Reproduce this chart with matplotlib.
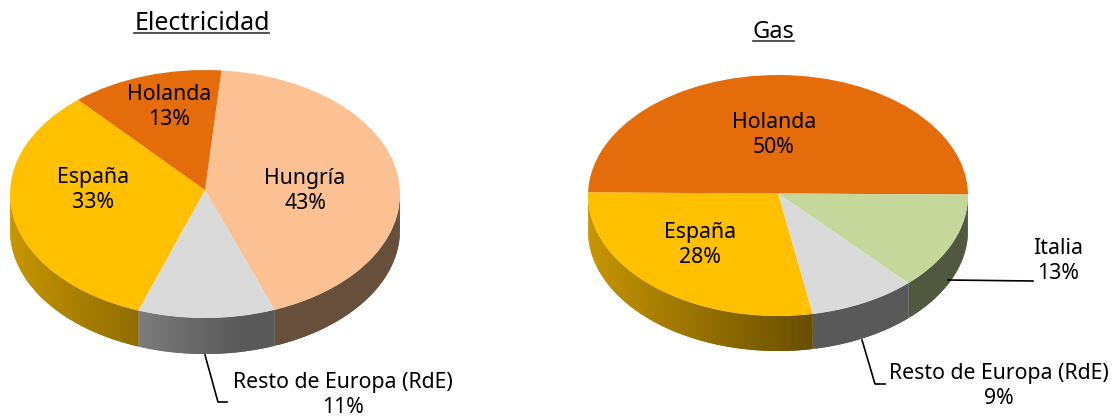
import numpy as np
import matplotlib
matplotlib.use("Agg")
import matplotlib.pyplot as plt
from matplotlib.transforms import Transform

plt.rcParams['font.family'] = ['Noto Sans', 'DejaVu Sans']

W, H = 1115, 418

elec_names = ["Hungría", "Resto de Europa (RdE)", "España", "Holanda"]
elec_values = [43, 11, 33, 13]
elec_colors = ["#FBC192", "#DADADA", "#FFC000", "#E46C0A"]

gas_names = ["Holanda", "Italia", "Resto de Europa (RdE)", "España"]
gas_values = [50, 13, 9, 28]
gas_colors = ["#E46C0A", "#C5D79B", "#DADADA", "#FFC000"]

FS = 15.3


class Tilt(Transform):
    """Perspective of a disc: keeps the unit circle, lifts its centre by a."""
    input_dims = output_dims = 2
    is_affine = False

    def __init__(self, a):
        super().__init__()
        self.a = a

    def transform_non_affine(self, xy):
        xy = np.asarray(xy, dtype=float)
        x, y = xy[:, 0], xy[:, 1]
        den = 1 + self.a * y
        return np.column_stack((x * np.sqrt(1 - self.a ** 2) / den, (y + self.a) / den))


def shade(hex_color, frac):
    base = np.array(matplotlib.colors.to_rgb(hex_color))
    f = 0.78 - (0.78 - 0.41) * min(frac / 0.58, 1.0)
    return tuple(base * f)


def pie3d(values, colors, cx, cy, rx, ry, depth, start, lift):
    ax = fig.add_axes([0, 0, 1, 1], facecolor='none')
    wedges, _ = ax.pie(values, colors=colors, startangle=start, counterclock=False,
                       radius=1, wedgeprops=dict(linewidth=0))
    ax.set_aspect('auto')
    ax.set_xlim((0 - cx) / rx, (W - cx) / rx)
    ax.set_ylim((cy - H) / ry, cy / ry)
    ax.axis('off')
    tilt = Tilt(lift / ry)
    for w in wedges:
        w.set_zorder(3)
        w.set_transform(tilt + ax.transData)
    d = depth / ry
    th0 = start
    total = sum(values)
    for v, c in zip(values, colors):
        th1 = th0 - 360 * v / total
        for shift in (-360, 0, 360):
            a = max(th1 + shift, 180)
            b = min(th0 + shift, 360)
            if b > a:
                edges = np.radians(np.append(np.arange(a, b, 1.0), b))
                for i in range(len(edges) - 1):
                    t0 = edges[i]
                    # each strip runs on under the next one, so no seams show
                    t1 = edges[min(i + 2, len(edges) - 1)]
                    ts = np.linspace(t0, t1, 5)
                    pts = tilt.transform_non_affine(np.column_stack((np.cos(ts), np.sin(ts))))
                    xs, ys = pts[:, 0], pts[:, 1]
                    frac = (np.cos((edges[i] + edges[i + 1]) / 2) + 1) / 2
                    ax.fill(np.r_[xs, xs[::-1]], np.r_[ys, ys[::-1] - d],
                            facecolor=shade(c, frac), edgecolor='none', linewidth=0, zorder=1)
        th0 = th1
    return ax


fig = plt.figure(figsize=(W / 100, H / 100), dpi=100, facecolor='white')

pie3d(elec_values, elec_colors, 205, 194, 195, 124, 36, 85, 4)
pie3d(gas_values, gas_colors, 778, 195.5, 190, 120.5, 35, 179.5, 2)

ov = fig.add_axes([0, 0, 1, 1], facecolor='none')
ov.set_xlim(0, W)
ov.set_ylim(H, 0)
ov.axis('off')


def label(x, y, name, val):
    ov.text(x, y, f"{name}\n{val}%", ha='center', va='center', fontsize=FS,
            color='black', linespacing=1.27, zorder=10)


label(169, 107, elec_names[3], elec_values[3])
label(305, 191, elec_names[0], elec_values[0])
label(93, 190, elec_names[2], elec_values[2])
label(343, 395, elec_names[1], elec_values[1])

label(774, 135, gas_names[0], gas_values[0])
label(700, 245, gas_names[3], gas_values[3])
label(1058, 261, gas_names[1], gas_values[1])
label(999, 386, gas_names[2], gas_values[2])

ov.plot([205, 218, 227], [355, 402, 402], color='black', lw=1.2, zorder=5)
ov.plot([862, 875, 885], [340, 384, 384], color='black', lw=1.2, zorder=5)
ov.plot([948, 1033], [280, 281], color='black', lw=1.2, zorder=5)

ov.text(202, 30, "Electricidad", ha='center', va='baseline', fontsize=18, color='black')
ov.plot([134, 269], [32.5, 32.5], color='#333333', lw=1.2)
ov.text(773.5, 38.5, "Gas", ha='center', va='baseline', fontsize=17, color='black')
ov.plot([753, 794], [41, 41], color='#333333', lw=1.2)

fig.savefig("out.png", dpi=100)
